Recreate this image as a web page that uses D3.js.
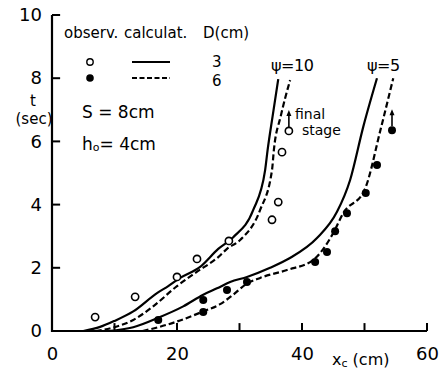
<!DOCTYPE html>
<html>
<head>
<meta charset="utf-8">
<script src="https://cdn.jsdelivr.net/npm/d3@7"></script>
<style>
  html, body { margin: 0; padding: 0; background: #fff; color: #000; }
  svg text { font-family: "DejaVu Sans", sans-serif; fill: #000; }
</style>
</head>
<body>
<svg id="chart" width="441" height="372"></svg>
<script>
// Observed travel time t (sec) vs. distance xc (cm)
const obsD3X = [6.9, 13.3, 20.0, 23.2, 28.3, 35.2, 36.2, 36.8, 37.9];
const obsD3T = [0.44, 1.08, 1.71, 2.28, 2.85, 3.52, 4.08, 5.66, 6.33];
const obsD6X = [17.0, 24.2, 24.2, 28.0, 31.2, 42.1, 44.0, 45.3, 47.2, 50.2, 52.0, 54.4];
const obsD6T = [0.35, 0.60, 0.98, 1.30, 1.55, 2.18, 2.50, 3.16, 3.73, 4.37, 5.25, 6.35];

// Calculated curves, psi = 10
const calcP10D3X = [5, 7.7, 10, 13, 16.8, 18.6, 20.5, 23.7, 26.6, 29.0, 32.2, 34.1, 34.5, 35.3, 36.2];
const calcP10D3T = [0, 0.13, 0.32, 0.62, 1.2, 1.42, 1.68, 2.03, 2.6, 2.97, 3.83, 5.09, 5.73, 6.8, 7.97];
const calcP10D6X = [7, 10, 13, 16, 20, 23, 26.6, 28, 30.1, 33.3, 35.2, 35.5, 36.6, 38.1];
const calcP10D6T = [0, 0.12, 0.35, 0.75, 1.42, 1.85, 2.34, 2.6, 2.88, 3.83, 5.09, 5.73, 6.8, 7.94];

// Calculated curves, psi = 5
const calcP5D3X = [9, 13, 17, 21, 24.2, 26.4, 28.5, 31.2, 34.9, 38, 42.4, 45.6, 47.7, 49.8, 52];
const calcP5D3T = [0, 0.12, 0.42, 0.78, 1.15, 1.35, 1.55, 1.71, 2.0, 2.3, 2.94, 3.77, 4.78, 6.46, 8.0];
const calcP5D6X = [14.5, 17, 20, 24.2, 26.9, 29, 31.2, 33.3, 37.6, 41.8, 45, 46.6, 50, 52.6, 54.6];
const calcP5D6T = [0, 0.12, 0.3, 0.62, 0.85, 1.15, 1.5, 1.68, 1.93, 2.25, 3.1, 3.73, 4.46, 6.4, 8.0];

const xTicks = [10, 20, 30, 40, 50, 60];
const xTickLabels = [0, 20, 40, 60];
const yTicks = [2, 4, 6, 8, 10];
const yTickLabels = [0, 2, 4, 6, 8, 10];

const svg = d3.select("#chart");
const x = d3.scaleLinear().domain([0, 60]).range([52, 427]);
const y = d3.scaleLinear().domain([0, 10]).range([331, 15]);

const zip = (xs, ts) => xs.map((v, i) => ({ x: v, t: ts[i] }));

// Tick labels from d3 axes
const gx = svg.append("g").attr("transform", `translate(0,${y(0)})`)
  .call(d3.axisBottom(x).tickValues(xTickLabels).tickSize(0).tickPadding(16));
const gy = svg.append("g").attr("transform", `translate(${x(0)},0)`)
  .call(d3.axisLeft(y).tickValues(yTickLabels).tickSize(0).tickPadding(10));
[gx, gy].forEach(g => {
  g.select(".domain").remove();
  g.selectAll(".tick line").remove();
  g.selectAll(".tick text").attr("fill", "#000").attr("font-size", 18)
    .attr("font-family", "DejaVu Sans");
});

// Curves and axis frame share the same line generator
const line = d3.line().x(d => x(d.x)).y(d => y(d.t));
const smooth = d3.line().x(d => x(d.x)).y(d => y(d.t)).curve(d3.curveMonotoneX);

// Axis frame: left and bottom edges plus short inward ticks
svg.append("path").datum([{ x: 0, t: 10 }, { x: 0, t: 0 }, { x: 60, t: 0 }])
  .attr("d", line).attr("fill", "none").attr("stroke", "#000").attr("stroke-width", 2.2);
xTicks.forEach(d => {
  svg.append("path").datum([{ x: d, t: 0 }, { x: d, t: 0.25 }])
    .attr("d", line).attr("fill", "none").attr("stroke", "#000").attr("stroke-width", 2);
});
yTicks.forEach(d => {
  svg.append("path").datum([{ x: 0, t: d }, { x: 1.3, t: d }])
    .attr("d", line).attr("fill", "none").attr("stroke", "#000").attr("stroke-width", 2);
});

const curves = [
  [calcP10D3X, calcP10D3T, null],
  [calcP10D6X, calcP10D6T, "6,3"],
  [calcP5D3X, calcP5D3T, null],
  [calcP5D6X, calcP5D6T, "6,3"]
];
curves.forEach(([xs, ts, dash]) => {
  svg.append("path").datum(zip(xs, ts))
    .attr("d", smooth).attr("fill", "none").attr("stroke", "#000")
    .attr("stroke-width", 2.2).attr("stroke-dasharray", dash);
});

// Observed points
svg.append("g").selectAll("circle").data(zip(obsD3X, obsD3T)).join("circle")
  .attr("cx", d => x(d.x)).attr("cy", d => y(d.t)).attr("r", 3.6)
  .attr("fill", "#fff").attr("stroke", "#000").attr("stroke-width", 1.6);
svg.append("g").selectAll("circle").data(zip(obsD6X, obsD6T)).join("circle")
  .attr("cx", d => x(d.x)).attr("cy", d => y(d.t)).attr("r", 4)
  .attr("fill", "#000");

// Final-stage arrows above the last observation of each series
const finals = [
  { x: obsD3X[obsD3X.length - 1], t: obsD3T[obsD3T.length - 1] },
  { x: obsD6X[obsD6X.length - 1], t: obsD6T[obsD6T.length - 1] }
];
finals.forEach(p => {
  const cx = x(p.x), top = y(p.t) - 21, bot = y(p.t) - 4;
  svg.append("line").attr("x1", cx).attr("x2", cx).attr("y1", bot).attr("y2", top + 4)
    .attr("stroke", "#000").attr("stroke-width", 1.6);
  svg.append("path").attr("d", `M${cx},${top} L${cx - 2.5},${top + 6} L${cx + 2.5},${top + 6}Z`)
    .attr("fill", "#000");
});
svg.append("text").attr("x", 295).attr("y", 119).attr("font-size", 14).text("final");
svg.append("text").attr("x", 302).attr("y", 135).attr("font-size", 14).text("stage");

// Curve labels
svg.append("text").attr("x", 271).attr("y", 71).attr("font-size", 16).attr("letter-spacing", -0.5).text("\u03c8=10");
svg.append("text").attr("x", 367).attr("y", 71).attr("font-size", 16).attr("letter-spacing", -0.5).text("\u03c8=5");

// Legend
svg.append("text").attr("x", 64).attr("y", 38).attr("font-size", 15).text("observ.");
svg.append("text").attr("x", 124).attr("y", 38).attr("font-size", 15).text("calculat.");
svg.append("text").attr("x", 203).attr("y", 38).attr("font-size", 15).text("D(cm)");
svg.append("circle").attr("cx", 90).attr("cy", 62).attr("r", 3.2)
  .attr("fill", "#fff").attr("stroke", "#000").attr("stroke-width", 1.4);
svg.append("circle").attr("cx", 90).attr("cy", 78).attr("r", 3.8).attr("fill", "#000");
svg.append("line").attr("x1", 132).attr("x2", 170).attr("y1", 62).attr("y2", 62)
  .attr("stroke", "#000").attr("stroke-width", 2.2);
svg.append("line").attr("x1", 132).attr("x2", 170).attr("y1", 78).attr("y2", 78)
  .attr("stroke", "#000").attr("stroke-width", 2.2).attr("stroke-dasharray", "5,2.5");
svg.append("text").attr("x", 212).attr("y", 67).attr("font-size", 15).text("3");
svg.append("text").attr("x", 212).attr("y", 86).attr("font-size", 15).text("6");

// Parameters
svg.append("text").attr("x", 82).attr("y", 118).attr("font-size", 17).text("S = 8cm");
const h = svg.append("text").attr("x", 82).attr("y", 150).attr("font-size", 17);
h.append("tspan").text("h");
h.append("tspan").attr("font-size", 11).attr("dy", 1).text("o");
h.append("tspan").attr("dy", -1).text("= 4cm");

// Axis titles
svg.append("text").attr("x", 33).attr("y", 106).attr("font-size", 15).attr("text-anchor", "middle").text("t");
svg.append("text").attr("x", 34).attr("y", 124).attr("font-size", 15).attr("text-anchor", "middle").text("(sec)");
const xl = svg.append("text").attr("x", 332).attr("y", 365).attr("font-size", 16);
xl.append("tspan").text("x");
xl.append("tspan").attr("font-size", 11).attr("dy", 2).text("c");
xl.append("tspan").attr("dy", -2).text(" (cm)");
</script>
</body>
</html>
